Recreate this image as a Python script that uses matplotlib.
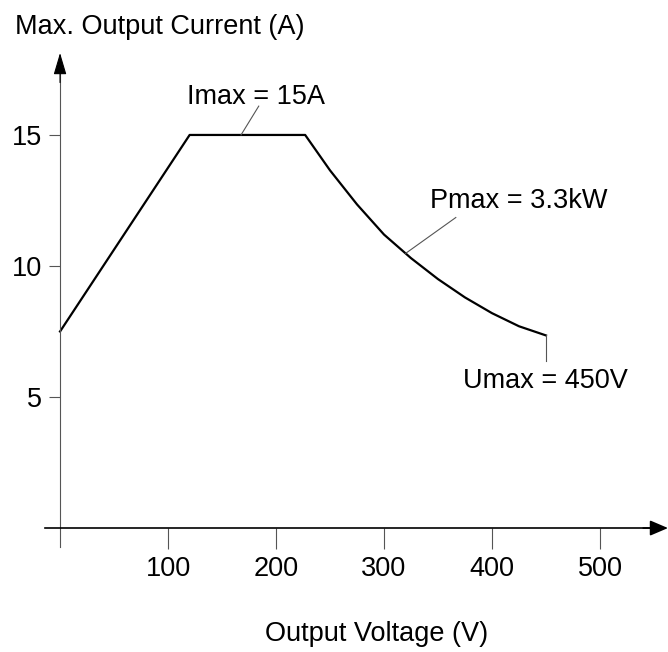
import matplotlib
matplotlib.use('Agg')
import matplotlib.pyplot as plt

# operating envelope
voltage = [0, 120, 227, 250, 275, 300, 325, 350, 375, 400, 425, 450]
current = [7.5, 15, 15, 13.65, 12.35, 11.2, 10.3, 9.5, 8.8, 8.2, 7.7, 7.35]

x_ticks = [100, 200, 300, 400, 500]
y_ticks = [5, 10, 15]

# labels with leader lines: (text, text pos, leader start, leader end)
notes = [
    ('Imax = 15A', (118, 16.2), (167.6, 15.0), (184, 16.1)),
    ('Pmax = 3.3kW', (342.5, 12.2), (320, 10.48), (366.5, 11.85)),
    ('Umax = 450V', (373.5, 5.34), (450, 7.35), (450, 6.37)),
]

fs = 19.5
plt.rcParams['font.family'] = ['Liberation Sans', 'DejaVu Sans']
plt.rcParams['font.size'] = fs

fig = plt.figure(figsize=(6.68, 6.52), dpi=100)
ax = fig.add_axes([0, 0, 1, 1])
ax.set_xlim(-55.6, 563)
ax.set_ylim(-4.73, 20.15)

ax.plot(voltage, current, color='black', lw=1.6, solid_joinstyle='round')

for txt, pos, p0, p1 in notes:
    ax.text(pos[0], pos[1], txt, fontsize=fs, va='baseline', ha='left')
    ax.plot([p0[0], p1[0]], [p0[1], p1[1]], color='#555555', lw=0.8)

# axes through the origin
for side in ['top', 'right']:
    ax.spines[side].set_visible(False)
ax.spines['left'].set_position(('data', 0))
ax.spines['bottom'].set_position(('data', 0))
ax.spines['left'].set_bounds(-0.73, 17.5)
ax.spines['bottom'].set_bounds(-14, 552)
ax.spines['left'].set_color('#555555')
ax.spines['left'].set_linewidth(0.8)
ax.spines['bottom'].set_color('black')
ax.spines['bottom'].set_linewidth(1.2)

# arrow heads
ax.annotate('', xy=(0, 18.13), xytext=(0, 17.0),
            arrowprops=dict(arrowstyle='-|>,head_length=13.5,head_width=4', mutation_scale=1,
                            color='black', lw=0.8, shrinkA=0, shrinkB=0),
            annotation_clip=False)
ax.annotate('', xy=(563, 0), xytext=(540, 0),
            arrowprops=dict(arrowstyle='-|>,head_length=11,head_width=4.7', mutation_scale=1,
                            color='black', lw=1.2, shrinkA=0, shrinkB=0),
            annotation_clip=False)

ax.set_xticks(x_ticks)
ax.set_yticks(y_ticks)
ax.tick_params(axis='x', direction='out', length=15, width=0.8, color='#555555', pad=5, labelsize=fs)
ax.tick_params(axis='y', direction='out', length=8, width=0.8, color='#555555', pad=5, labelsize=fs)

fig.text(15 / 668, 1 - 34 / 652, 'Max. Output Current (A)', fontsize=fs, va='baseline', ha='left')
fig.text(265 / 668, 1 - 641 / 652, 'Output Voltage (V)', fontsize=fs, va='baseline', ha='left')

fig.savefig('out.png', dpi=100)
